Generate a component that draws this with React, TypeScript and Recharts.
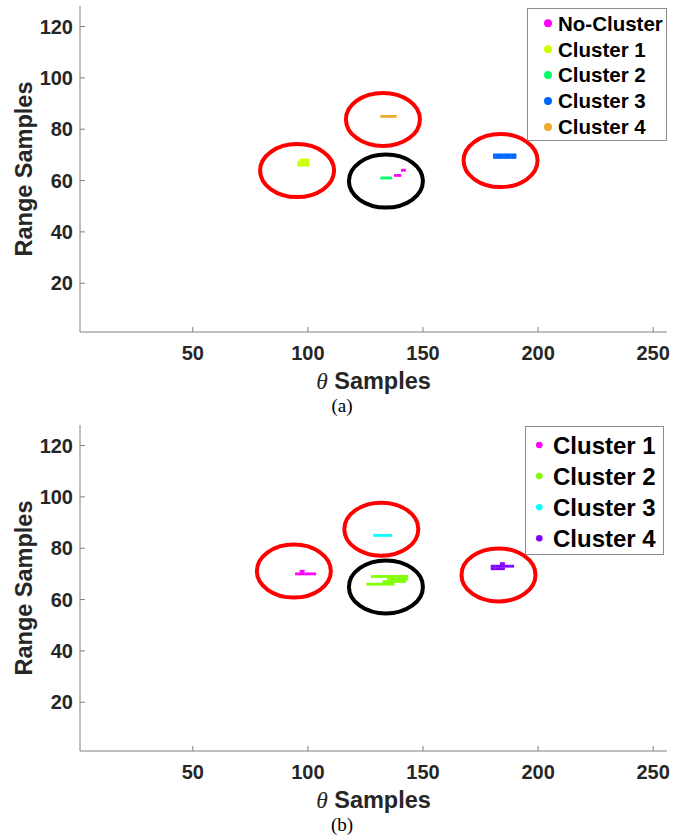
import React from 'react';
import { ScatterChart, Scatter, XAxis, YAxis, Legend } from 'recharts';

// ---------- axes ----------
const xTicks = [50, 100, 150, 200, 250];
const yTicks = [20, 40, 60, 80, 100, 120];
const xDomain: [number, number] = [1, 256];
const yDomain: [number, number] = [1, 128];

// ---------- panel (a) data: rows of [range sample, theta samples] ----------
const aNoClusterRows: [number, number[]][] = [
  [64, [141, 142]],
  [62, [138, 139, 140]],
];
const aCluster1Rows: [number, number[]][] = [
  [68, [97, 98, 99, 100]],
  [67, [96, 97, 98, 99, 100]],
  [66, [96, 97, 98, 99, 100]],
];
const aCluster2Rows: [number, number[]][] = [
  [61, [132, 133, 134, 135, 136]],
];
const aCluster3Rows: [number, number[]][] = [
  [70, [181, 182, 183, 184, 185, 186, 187, 188, 189, 190]],
  [69, [181, 182, 183, 184, 185, 186, 187, 188, 189, 190]],
];
const aCluster4Rows: [number, number[]][] = [
  [85, [132, 133, 134, 135, 136, 137, 138]],
];
const aRedRings = [
  { x: 95.3, y: 63.9 },
  { x: 132.6, y: 83.8 },
  { x: 183.7, y: 67.8 },
];
const aBlackRings = [{ x: 133.9, y: 59.8 }];
const aLabels = ['No-Cluster', 'Cluster 1', 'Cluster 2', 'Cluster 3', 'Cluster 4'];

// ---------- panel (b) data ----------
const bCluster1Rows: [number, number[]][] = [
  [71, [97, 98]],
  [70, [95, 96, 97, 98, 99, 100, 101, 102, 103]],
];
const bCluster2Rows: [number, number[]][] = [
  [69, [128, 129, 130, 131, 132, 133, 134, 135, 136, 137, 138, 139, 140, 141, 142, 143]],
  [68, [135, 136, 137, 138, 139, 140, 141, 142, 143]],
  [67, [133, 134, 135, 136, 137, 138, 139, 140, 141, 142]],
  [66, [126, 127, 128, 129, 130, 131, 132, 133, 134, 135, 136, 137]],
];
const bCluster3Rows: [number, number[]][] = [
  [85, [129, 130, 131, 132, 133, 134, 135, 136]],
];
const bCluster4Rows: [number, number[]][] = [
  [74, [184, 185]],
  [73, [180, 181, 182, 183, 184, 185, 186, 187, 188, 189]],
  [72, [180, 181, 182, 183, 184, 185]],
];
const bRedRings = [
  { x: 93.9, y: 71.1 },
  { x: 131.9, y: 87.4 },
  { x: 182.8, y: 69.6 },
];
const bBlackRings = [{ x: 133.9, y: 64.9 }];
const bLabels = ['Cluster 1', 'Cluster 2', 'Cluster 3', 'Cluster 4'];

// ---------- styles ----------
const FONT = '"Liberation Sans", Arial, Helvetica, sans-serif';
const SERIF = '"Liberation Serif", "Times New Roman", serif';
const TEXT = '#262626';
const AXIS = '#808080';
const aColors = ['#FF00FF', '#CCFF00', '#00FF66', '#0066FF', '#EDAA2E'];
const bColors = ['#FF00FF', '#80FF00', '#00FFFF', '#8000FF'];

const toPoints = (rows: [number, number[]][]) =>
  rows.flatMap(([y, xs]) => xs.map((x) => ({ x, y })));

const Dot = (props: any) => {
  const { cx, cy, fill } = props;
  if (cx == null || cy == null) return <g />;
  return <rect x={cx - 1.3} y={cy - 1.4} width={2.6} height={2.8} fill={fill} />;
};

const makeRing = (stroke: string) => (props: any) => {
  const { cx, cy } = props;
  if (cx == null || cy == null) return <g />;
  return <ellipse cx={cx} cy={cy} rx={37} ry={26.5} fill="none" stroke={stroke} strokeWidth={4} />;
};
const RedRing = makeRing('#FF0000');
const BlackRing = makeRing('#000000');

const XTick = (p: any) => (
  <g>
    <line x1={p.x} x2={p.x} y1={p.y} y2={p.y - 5} stroke={AXIS} />
    <text x={p.x} y={p.y + 28} textAnchor="middle" fontFamily={FONT} fontWeight="bold" fontSize={20} fill={TEXT}>
      {p.payload.value}
    </text>
  </g>
);
const XTopTick = (p: any) => (
  <line x1={p.x} x2={p.x} y1={p.y} y2={p.y + 5} stroke={AXIS} />
);
const YTick = (p: any) => (
  <g>
    <line x1={p.x} x2={p.x + 5} y1={p.y} y2={p.y} stroke={AXIS} />
    <text x={p.x - 7} y={p.y + 7} textAnchor="end" fontFamily={FONT} fontWeight="bold" fontSize={20} fill={TEXT}>
      {p.payload.value}
    </text>
  </g>
);
const YRightTick = (p: any) => (
  <line x1={p.x} x2={p.x - 5} y1={p.y} y2={p.y} stroke={AXIS} />
);

const makeXTitle = (tag: string) => (lp: any) => {
  const vb = lp && lp.viewBox ? lp.viewBox : { x: 80, y: 332, width: 587 };
  const cx = vb.x + vb.width / 2;
  return (
    <g>
      <text x={cx} y={vb.y + 57} textAnchor="middle" fontFamily={FONT} fontWeight="bold" fontSize={23.5} fill={TEXT}>
        <tspan fontFamily={SERIF} fontStyle="italic" fontWeight="normal">θ</tspan>
        <tspan> Samples</tspan>
      </text>
      <text x={342} y={vb.y + 80} textAnchor="middle" fontFamily={SERIF} fontSize={19} fill="#000">
        {tag}
      </text>
    </g>
  );
};

const YTitle = (lp: any) => {
  const vb = lp && lp.viewBox ? lp.viewBox : { x: 0, y: 6, width: 80, height: 326 };
  const cy = vb.y + vb.height / 2;
  return (
    <text
      transform={`translate(32, ${cy}) rotate(-90)`}
      textAnchor="middle"
      fontFamily={FONT}
      fontWeight="bold"
      fontSize={23.5}
      fill={TEXT}
    >
      Range Samples
    </text>
  );
};

type LegendCfg = {
  width: number;
  height: number;
  fontSize: number;
  rowH: number;
  firstY: number;
  markerX: number;
  textX: number;
  r: number;
};

const LegendBox = ({ labels, colors, cfg }: { labels: string[]; colors: string[]; cfg: LegendCfg }) => (
  <svg width={cfg.width} height={cfg.height} style={{ display: 'block' }}>
    <rect x={0.5} y={0.5} width={cfg.width - 1} height={cfg.height - 1} fill="#fff" stroke="#8c8c8c" />
    {labels.map((lab, i) => {
      const cy = cfg.firstY + i * cfg.rowH;
      return (
        <g key={lab}>
          <circle cx={cfg.markerX} cy={cy} r={cfg.r} fill={colors[i]} />
          <text x={cfg.textX} y={cy + cfg.fontSize * 0.36} fontFamily={FONT} fontWeight="bold" fontSize={cfg.fontSize} fill="#000">
            {lab}
          </text>
        </g>
      );
    })}
  </svg>
);

type PanelProps = {
  series: { name: string; data: { x: number; y: number }[]; color: string }[];
  red: { x: number; y: number }[];
  black: { x: number; y: number }[];
  tag: string;
  legendPos: { left: number; top: number };
  cfg: LegendCfg;
};

const Panel = ({ series, red, black, tag, legendPos, cfg }: PanelProps) => (
  <ScatterChart width={684} height={419} margin={{ top: 6, right: 17, bottom: 0, left: 0 }}>
    <XAxis
      xAxisId="b"
      type="number"
      dataKey="x"
      domain={xDomain}
      ticks={xTicks}
      interval={0}
      allowDataOverflow
      height={87}
      tickSize={0}
      tickMargin={0}
      tickLine={false}
      axisLine={{ stroke: AXIS }}
      tick={<XTick />}
      label={makeXTitle(tag)}
    />
    <XAxis
      xAxisId="t"
      orientation="top"
      type="number"
      domain={xDomain}
      ticks={xTicks}
      interval={0}
      allowDataOverflow
      height={0}
      tickSize={0}
      tickMargin={0}
      tickLine={false}
      axisLine={{ stroke: AXIS }}
      tick={<XTopTick />}
    />
    <YAxis
      yAxisId="l"
      type="number"
      dataKey="y"
      domain={yDomain}
      ticks={yTicks}
      interval={0}
      allowDataOverflow
      width={80}
      tickSize={0}
      tickMargin={0}
      tickLine={false}
      axisLine={{ stroke: AXIS }}
      tick={<YTick />}
      label={YTitle}
    />
    <YAxis
      yAxisId="r"
      orientation="right"
      type="number"
      domain={yDomain}
      ticks={yTicks}
      interval={0}
      allowDataOverflow
      width={0}
      tickSize={0}
      tickMargin={0}
      tickLine={false}
      axisLine={{ stroke: AXIS }}
      tick={<YRightTick />}
    />
    {series.map((s) => (
      <Scatter
        key={s.name}
        name={s.name}
        data={s.data}
        xAxisId="b"
        yAxisId="l"
        fill={s.color}
        shape={Dot}
        isAnimationActive={false}
      />
    ))}
    <Scatter data={red} xAxisId="b" yAxisId="l" shape={RedRing} legendType="none" isAnimationActive={false} />
    <Scatter data={black} xAxisId="b" yAxisId="l" shape={BlackRing} legendType="none" isAnimationActive={false} />
    <Legend
      layout="vertical"
      align="center"
      verticalAlign="middle"
      wrapperStyle={{ left: legendPos.left, top: legendPos.top, width: cfg.width, height: cfg.height }}
      content={() => (
        <LegendBox labels={series.map((s) => s.name)} colors={series.map((s) => s.color)} cfg={cfg} />
      )}
    />
  </ScatterChart>
);

const aSeries = [aNoClusterRows, aCluster1Rows, aCluster2Rows, aCluster3Rows, aCluster4Rows].map((rows, i) => ({
  name: aLabels[i],
  data: toPoints(rows),
  color: aColors[i],
}));
const bSeries = [bCluster1Rows, bCluster2Rows, bCluster3Rows, bCluster4Rows].map((rows, i) => ({
  name: bLabels[i],
  data: toPoints(rows),
  color: bColors[i],
}));

const aCfg: LegendCfg = { width: 140, height: 133, fontSize: 20.5, rowH: 25.9, firstY: 15.3, markerX: 21, textX: 31, r: 4 };
const bCfg: LegendCfg = { width: 139, height: 129, fontSize: 24, rowH: 31.1, firstY: 19, markerX: 14.3, textX: 28, r: 3.3 };

export default function App() {
  return (
    <div style={{ position: 'absolute', left: 0, top: 0, width: 684, height: 837, background: '#fff', overflow: 'hidden' }}>
      <div style={{ position: 'absolute', left: 0, top: 0 }}>
        <Panel series={aSeries} red={aRedRings} black={aBlackRings} tag="(a)" legendPos={{ left: 527, top: 8 }} cfg={aCfg} />
      </div>
      <div style={{ position: 'absolute', left: 0, top: 419 }}>
        <Panel series={bSeries} red={bRedRings} black={bBlackRings} tag="(b)" legendPos={{ left: 525, top: 7 }} cfg={bCfg} />
      </div>
    </div>
  );
}
